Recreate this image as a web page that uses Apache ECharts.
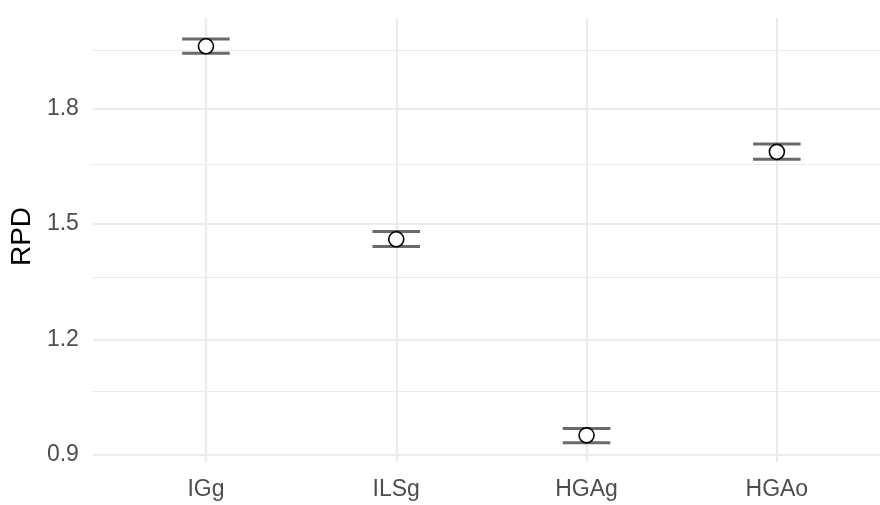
<!DOCTYPE html>
<html><head><meta charset="utf-8">
<script src="https://cdn.jsdelivr.net/npm/echarts@6/dist/echarts.min.js"></script>
<style>html,body{margin:0;padding:0;background:#fff}#c{width:880px;height:505px}</style>
</head><body><div id="c"></div>
<script>
const categories = ['IGg', 'ILSg', 'HGAg', 'HGAo'];
const meanRPD  = [1.961, 1.460, 0.951, 1.687];
const lowerRPD = [1.943, 1.441, 0.932, 1.668];
const upperRPD = [1.980, 1.480, 0.969, 1.707];
const yMajorTicks = [0.9, 1.2, 1.5, 1.8];
const yMinorTicks = [1.05, 1.35, 1.65, 1.95];
const yMin = 0.9, yMax = 2.0344, yMinorStart = 0.75, yStep = 0.3;

const font = '"Liberation Sans", Arial, sans-serif';
const gridColor = '#ebebeb';

const chart = echarts.init(document.getElementById('c'), null, {renderer: 'canvas'});
chart.setOption({
  backgroundColor: '#ffffff',
  animation: false,
  grid: [
    {left: 92, right: 0, top: 18, bottom: 50},
    {left: 92, right: 0, top: 18, bottom: -7.8},
    {left: 110.8, right: 8, top: 18, bottom: 50}
  ],
  xAxis: [
    {gridIndex: 0, type: 'value', show: false},
    {gridIndex: 1, type: 'value', show: false},
    {gridIndex: 2, type: 'category', data: categories, boundaryGap: true, offset: 7,
      axisLine: {show: false},
      axisTick: {show: true, alignWithLabel: true, inside: true, length: 444,
        lineStyle: {color: gridColor, width: 2.2}},
      axisLabel: {margin: 16, color: '#4d4d4d', fontSize: 23, fontFamily: font},
      splitLine: {show: false}}
  ],
  yAxis: [
    {gridIndex: 0, type: 'value', min: yMin, max: yMax, interval: yStep,
      axisLine: {show: false}, axisTick: {show: false},
      axisLabel: {margin: 14, color: '#4d4d4d', fontSize: 23, fontFamily: font, showMaxLabel: false,
        formatter: v => yMajorTicks.some(t => Math.abs(t - v) < 1e-6) ? v.toFixed(1) : ''},
      splitLine: {show: true, showMaxLine: false, lineStyle: {color: gridColor, width: 2.2}},
      name: 'RPD', nameLocation: 'middle', nameGap: 49,
      nameTextStyle: {fontSize: 28, color: '#000000', fontFamily: font}},
    {gridIndex: 1, type: 'value', min: yMinorStart, max: yMax, interval: yStep,
      axisLine: {show: false}, axisTick: {show: false}, axisLabel: {show: false},
      splitLine: {show: true, showMinLine: false, showMaxLine: false, lineStyle: {color: gridColor, width: 1.1}}},
    {gridIndex: 2, type: 'value', min: yMin, max: yMax, show: false, splitLine: {show: false}}
  ],
  series: [
    {
      type: 'custom', xAxisIndex: 2, yAxisIndex: 2, z: 2,
      data: categories.map((c, i) => [i, lowerRPD[i], upperRPD[i]]),
      renderItem: function (params, api) {
        const i = api.value(0);
        const lo = api.coord([i, api.value(1)]);
        const hi = api.coord([i, api.value(2)]);
        const hw = api.size([1, 0])[0] * 0.125;
        const st = {stroke: '#6a6a6a', lineWidth: 3};
        return {type: 'group', children: [
          {type: 'line', shape: {x1: lo[0] - hw, y1: lo[1], x2: lo[0] + hw, y2: lo[1]}, style: st},
          {type: 'line', shape: {x1: hi[0] - hw, y1: hi[1], x2: hi[0] + hw, y2: hi[1]}, style: st}
        ]};
      }
    },
    {
      type: 'scatter', xAxisIndex: 2, yAxisIndex: 2, z: 3,
      data: categories.map((c, i) => [i, meanRPD[i]]),
      symbol: 'circle', symbolSize: 15,
      itemStyle: {color: '#ffffff', borderColor: '#000000', borderWidth: 1.6, opacity: 1}
    }
  ]
});
</script>
</body></html>
